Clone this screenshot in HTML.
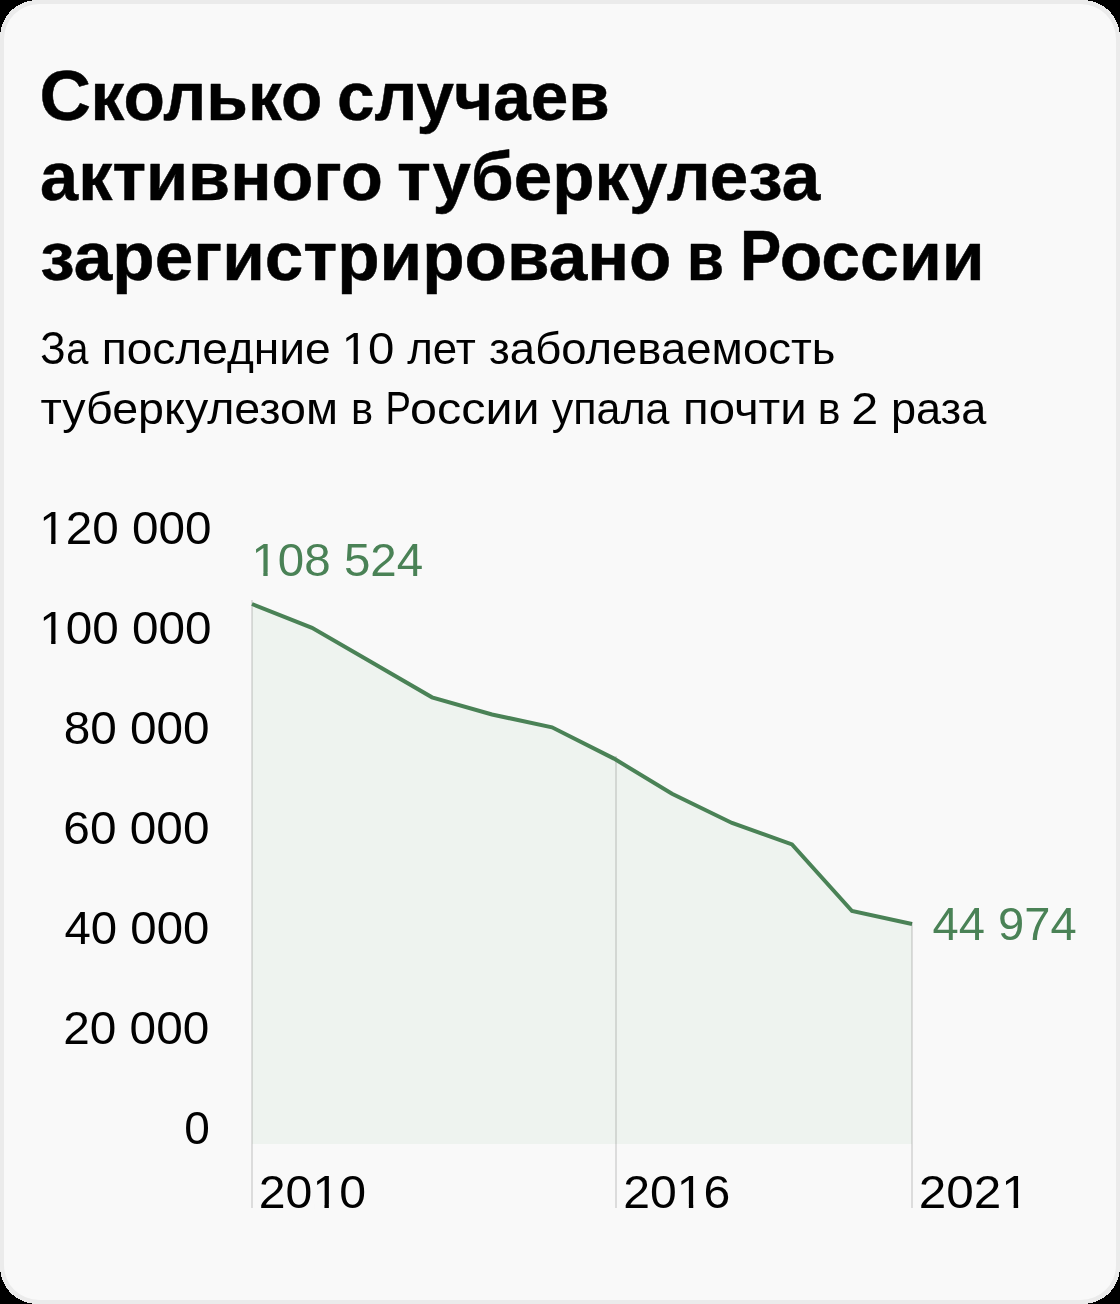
<!DOCTYPE html>
<html lang="ru">
<head>
<meta charset="utf-8">
<title>Сколько случаев активного туберкулеза зарегистрировано в России</title>
<style>
  html, body { margin: 0; padding: 0; background: #000; }
  body { width: 1120px; height: 1304px; overflow: hidden; }
  svg { display: block; }
  text { font-family: "Liberation Sans", sans-serif; }
  .t { font-weight: 700; fill: #000; stroke: #000; stroke-width: 0.5px; stroke-linejoin: round; }
  .s { fill: #000; }
  .a { fill: #000; }
  .v { fill: #4a8256; }
</style>
</head>
<body>
<svg width="1120" height="1304" viewBox="0 0 1120 1304">
  <!-- card -->
  <rect x="0" y="0" width="1120" height="1304" rx="37" ry="37" fill="#ebebeb" shape-rendering="crispEdges"/>
  <rect x="4" y="4" width="1112" height="1296" rx="35" ry="35" fill="#f9f9f9"/>

  <!-- area fill -->
  <polygon fill="#eef3ef" points="252,604 312,627.8 372,662.6 432,697.3 492,714.5 552,727.3 614,758.6 672,793.7 732,823 792,844.4 852,911 912,924 912,1144 252,1144"/>

  <!-- vertical grid lines (behind the series line) -->
  <g fill="rgba(0,0,0,0.115)">
    <rect x="251" y="600" width="2" height="608"/>
    <rect x="615" y="756" width="2" height="452"/>
  </g>

  <!-- line -->
  <polyline fill="none" stroke="#4a8256" stroke-width="4" stroke-linejoin="miter" stroke-linecap="butt"
    points="252,604 312,627.8 372,662.6 432,697.3 492,714.5 552,727.3 614,758.6 672,793.7 732,823 792,844.4 852,911 912,924"/>

  <!-- last grid line -->
  <rect x="911" y="922" width="2" height="286" fill="rgba(0,0,0,0.115)"/>

  <!-- text: title, subtitle, axis labels, value labels -->
  <g opacity="0.999">
  <text class="t" font-size="71" transform="matrix(1.0032 0 0 1 39.54 120)">С</text>
  <text class="t" font-size="68" transform="matrix(0.9967 0 0 1 90.51 120)">колько</text>
  <text class="t" font-size="68" transform="matrix(0.9922 0 0 1 337.02 120)">случаев</text>
  <text class="t" font-size="68" transform="matrix(1.0073 0 0 1 40.04 200)">активного</text>
  <text class="t" font-size="68" transform="matrix(1.0175 0 0 1 396.97 200)">туберкулеза</text>
  <text class="t" font-size="68" transform="matrix(1.0198 0 0 1 40.27 280)">зарегистрировано</text>
  <text class="t" font-size="68" transform="matrix(0.8929 0 0 1 686.73 280)">в</text>
  <text class="t" font-size="71" transform="matrix(0.8712 0 0 1 739.88 280)">Р</text>
  <text class="t" font-size="68" transform="matrix(1.0259 0 0 1 779.64 280)">оссии</text>
  <text class="s" font-size="46.5" transform="matrix(0.9031 0 0 1 40.25 364)">З</text>
  <text class="s" font-size="44" transform="matrix(0.9055 0 0 1 66.32 364)">а</text>
  <text class="s" font-size="44" transform="matrix(1.0489 0 0 1 101.65 364)">последние</text>
  <text class="s" font-size="44" transform="matrix(1.0756 0 0 1 341.68 364)">10</text>
  <text class="s" font-size="44" transform="matrix(0.9963 0 0 1 407.25 364)">лет</text>
  <text class="s" font-size="44" transform="matrix(1.0342 0 0 1 488.97 364)">заболеваемость</text>
  <text class="s" font-size="44" transform="matrix(1.0587 0 0 1 40.41 424)">туберкулезом</text>
  <text class="s" font-size="44" transform="matrix(0.9459 0 0 1 350.91 424)">в</text>
  <text class="s" font-size="46.5" transform="matrix(0.8202 0 0 1 385.62 424)">Р</text>
  <text class="s" font-size="44" transform="matrix(1.1020 0 0 1 410.07 424)">оссии</text>
  <text class="s" font-size="44" transform="matrix(0.9771 0 0 1 551.76 424)">упала</text>
  <text class="s" font-size="44" transform="matrix(1.0757 0 0 1 683.02 424)">почти</text>
  <text class="s" font-size="44" transform="matrix(0.9730 0 0 1 817.83 424)">в</text>
  <text class="s" font-size="44" transform="matrix(1.1000 0 0 1 851.27 424)">2</text>
  <text class="s" font-size="44" transform="matrix(1.0249 0 0 1 890.93 424)">раза</text>
  <text class="a" font-size="46" transform="matrix(1.0369 0 0 1 39.23 544)">120 000</text>
  <text class="a" font-size="46" transform="matrix(1.0369 0 0 1 39.23 644)">100 000</text>
  <text class="a" font-size="46" transform="matrix(1.0372 0 0 1 63.63 744)">80 000</text>
  <text class="a" font-size="46" transform="matrix(1.0391 0 0 1 63.36 844)">60 000</text>
  <text class="a" font-size="46" transform="matrix(1.0297 0 0 1 64.47 944)">40 000</text>
  <text class="a" font-size="46" transform="matrix(1.0391 0 0 1 63.16 1044)">20 000</text>
  <text class="a" font-size="46" transform="matrix(1.0000 0 0 1 184.35 1144)">0</text>
  <text class="a" font-size="46" transform="matrix(1.0480 0 0 1 258.78 1208)">2010</text>
  <text class="a" font-size="46" transform="matrix(1.0465 0 0 1 623.28 1208)">2016</text>
  <text class="a" font-size="46" transform="matrix(1.0756 0 0 1 918.71 1208)">2021</text>
  <text class="v" font-size="46" transform="matrix(1.0324 0 0 1 251.45 576)">108 524</text>
  <text class="v" font-size="46" transform="matrix(1.0238 0 0 1 932.58 940)">44 974</text>
  <g fill="#f9f9f9" transform="matrix(1.0756 0 0 1 341.68 364)"><rect x="1.85" y="-4.00" width="9.15" height="4.50"/><rect x="15.02" y="-4.00" width="8.81" height="4.50"/></g>
  <g fill="#f9f9f9" transform="matrix(1.0369 0 0 1 39.23 544)"><rect x="1.93" y="-4.00" width="9.57" height="4.50"/><rect x="15.70" y="-4.00" width="9.21" height="4.50"/></g>
  <g fill="#f9f9f9" transform="matrix(1.0369 0 0 1 39.23 644)"><rect x="1.93" y="-4.00" width="9.57" height="4.50"/><rect x="15.70" y="-4.00" width="9.21" height="4.50"/></g>
  <g fill="#f9f9f9" transform="matrix(1.0480 0 0 1 258.78 1208)"><rect x="53.10" y="-4.00" width="9.57" height="4.50"/><rect x="66.87" y="-4.00" width="9.21" height="4.50"/></g>
  <g fill="#f9f9f9" transform="matrix(1.0465 0 0 1 623.28 1208)"><rect x="53.10" y="-4.00" width="9.57" height="4.50"/><rect x="66.87" y="-4.00" width="9.21" height="4.50"/></g>
  <g fill="#f9f9f9" transform="matrix(1.0756 0 0 1 918.71 1208)"><rect x="78.68" y="-4.00" width="9.57" height="4.50"/><rect x="92.45" y="-4.00" width="9.21" height="4.50"/></g>
  <g fill="#f9f9f9" transform="matrix(1.0324 0 0 1 251.45 576)"><rect x="1.93" y="-4.00" width="9.57" height="4.50"/><rect x="15.70" y="-4.00" width="9.21" height="4.50"/></g>
  </g>
</svg>
</body>
</html>
